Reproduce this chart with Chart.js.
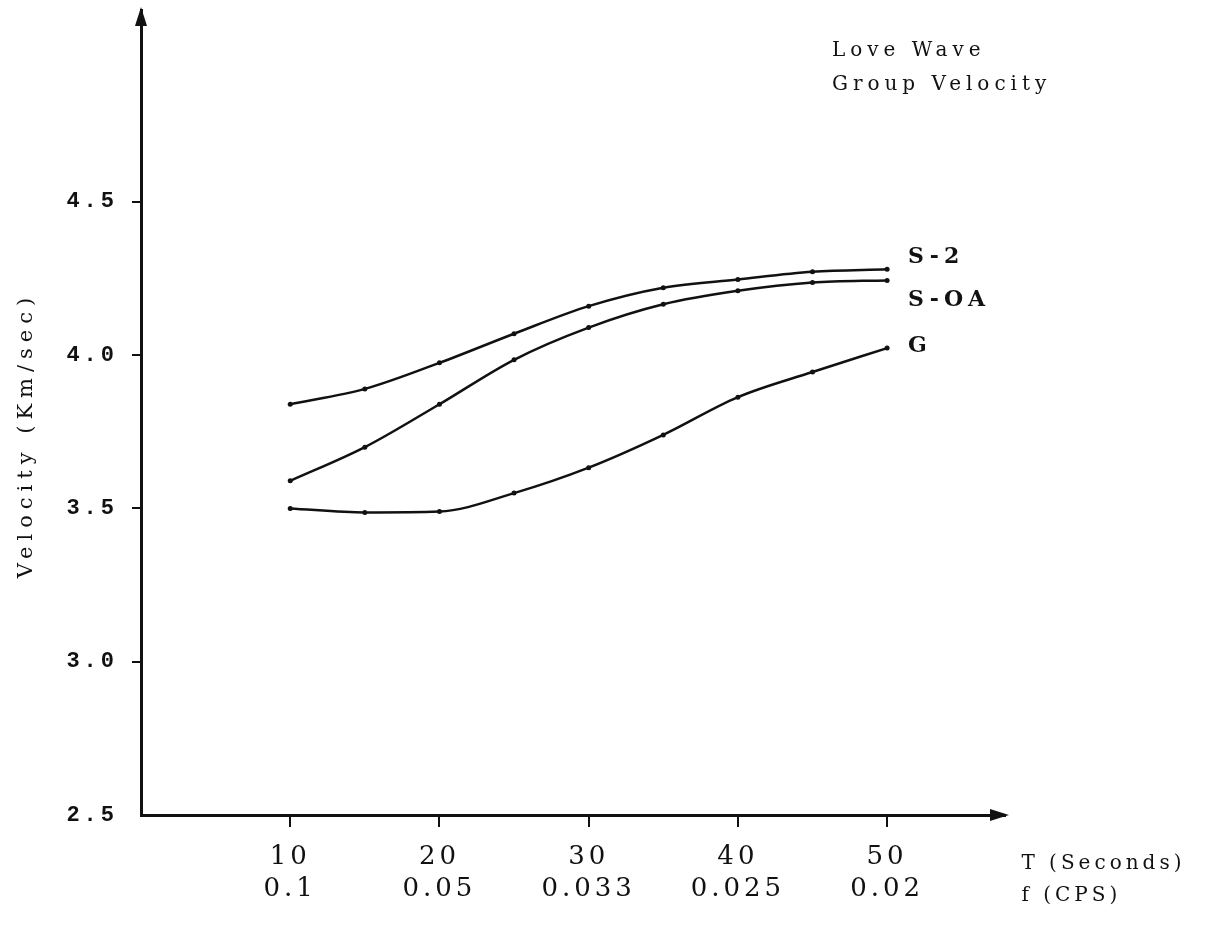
<!DOCTYPE html>
<html>
<head>
<meta charset="utf-8">
<script src="https://cdn.jsdelivr.net/npm/chart.js"></script>
<style>
  html, body { margin: 0; padding: 0; background: #fff; }
  #wrap { width: 1207px; height: 926px; }
</style>
</head>
<body>
<div id="wrap"><canvas id="loveWaveChart"></canvas></div>
<script>
// Period T (seconds) at the plotted points
const periods = [10, 15, 20, 25, 30, 35, 40, 45, 50];
// Group velocity (Km/sec) per model
const s2Velocity  = [3.84, 3.89, 3.975, 4.07, 4.16, 4.22, 4.247, 4.272, 4.28];
const soaVelocity = [3.59, 3.70, 3.84, 3.985, 4.09, 4.166, 4.21, 4.237, 4.244];
const gVelocity   = [3.50, 3.487, 3.49, 3.55, 3.633, 3.74, 3.863, 3.945, 4.023];
const seriesNames = ['S-2', 'S-OA', 'G'];
// Tick labels
const periodTicks = [10, 20, 30, 40, 50];
const freqLabels = ['0.1', '0.05', '0.033', '0.025', '0.02'];
const velocityTicks = [2.5, 3.0, 3.5, 4.0, 4.5];

const ink = '#111';
const serif = '"DejaVu Serif"';
const toPoints = vals => periods.map((t, i) => ({ x: t, y: vals[i] }));

// typewriter look: wide letter spacing for the axis texts
const spacing = {
    id: 'spacing',
    beforeDraw(chart) { chart.ctx.letterSpacing = '4px'; }
};

// arrows, curve names and the free text around the plot
const decorations = {
    id: 'decorations',
    afterDraw(chart) {
        const { ctx, chartArea: a, scales } = chart;
        ctx.save();
        ctx.fillStyle = ink;
        // arrow heads
        ctx.beginPath();
        ctx.moveTo(a.left, a.top - 3);
        ctx.lineTo(a.left - 6, a.top + 16);
        ctx.lineTo(a.left + 6, a.top + 16);
        ctx.fill();
        ctx.beginPath();
        ctx.moveTo(a.right + 4, a.bottom);
        ctx.lineTo(a.right - 15, a.bottom - 6);
        ctx.lineTo(a.right - 15, a.bottom + 6);
        ctx.fill();

        ctx.textBaseline = 'middle';
        ctx.textAlign = 'left';

        // curve names at the right end of each line
        ctx.font = 'bold 22px ' + serif;
        ctx.letterSpacing = '5px';
        const offsets = [-12, 20, -2];
        chart.data.datasets.forEach((ds, i) => {
            const p = chart.getDatasetMeta(i).data[ds.data.length - 1];
            ctx.fillText(seriesNames[i], p.x + 21, p.y + offsets[i]);
        });

        // title
        ctx.font = '20px ' + serif;
        ctx.letterSpacing = '5px';
        const tx = scales.x.getPixelForValue(46.3);
        ctx.fillText('Love Wave', tx, 51);
        ctx.fillText('Group Velocity', tx, 85);

        // axis names at the right of the tick labels
        ctx.letterSpacing = '4px';
        const lx = scales.x.getPixelForValue(59.0);
        ctx.fillText('T (Seconds)', lx, 864);
        ctx.fillText('f (CPS)', lx, 896);

        // y axis name, rotated
        ctx.save();
        ctx.translate(27, 435);
        ctx.rotate(-Math.PI / 2);
        ctx.textAlign = 'center';
        ctx.font = '21px ' + serif;
        ctx.letterSpacing = '6px';
        ctx.fillText('Velocity (Km/sec)', 0, 0);
        ctx.restore();

        ctx.restore();
    }
};

const ctx = document.getElementById('loveWaveChart').getContext('2d');
new Chart(ctx, {
    type: 'line',
    data: {
        datasets: [s2Velocity, soaVelocity, gVelocity].map((vals, i) => ({
            label: seriesNames[i],
            data: toPoints(vals),
            borderColor: ink,
            backgroundColor: ink,
            borderWidth: 2.5,
            pointRadius: 2.5,
            pointBorderWidth: 0,
            cubicInterpolationMode: 'monotone',
            fill: false
        }))
    },
    options: {
        responsive: true,
        maintainAspectRatio: false,
        animation: false,
        layout: { padding: { top: 10, right: 202, left: 0, bottom: 0 } },
        plugins: {
            legend: { display: false },
            tooltip: { enabled: false }
        },
        scales: {
            x: {
                type: 'linear',
                min: 0,
                max: 57.9,
                afterBuildTicks: s => { s.ticks = periodTicks.map(v => ({ value: v })); },
                afterFit: s => { s.height = 111; s.paddingLeft = 0; s.paddingRight = 0; },
                border: { display: true, color: ink, width: 3 },
                grid: { drawOnChartArea: false, drawTicks: true, tickLength: 12, color: ink, lineWidth: 2 },
                ticks: {
                    color: ink,
                    padding: 15,
                    maxRotation: 0,
                    font: { family: serif, size: 26, lineHeight: 1.2 },
                    callback: (v, i) => [String(v), freqLabels[i]]
                }
            },
            y: {
                min: 2.5,
                max: 5.126,
                afterBuildTicks: s => { s.ticks = velocityTicks.map(v => ({ value: v })); },
                afterFit: s => { s.width = 141; s.paddingTop = 0; s.paddingBottom = 0; },
                border: { display: true, color: ink, width: 3 },
                grid: {
                    drawOnChartArea: false,
                    drawTicks: true,
                    tickLength: 9,
                    lineWidth: 2,
                    color: c => (c.tick && c.tick.value === 2.5 ? 'rgba(0,0,0,0)' : ink)
                },
                ticks: {
                    color: ink,
                    padding: 14,
                    font: { family: '"Liberation Mono"', size: 22, weight: 'bold' },
                    callback: v => v.toFixed(1)
                }
            }
        }
    },
    plugins: [spacing, decorations]
});
</script>
</body>
</html>
